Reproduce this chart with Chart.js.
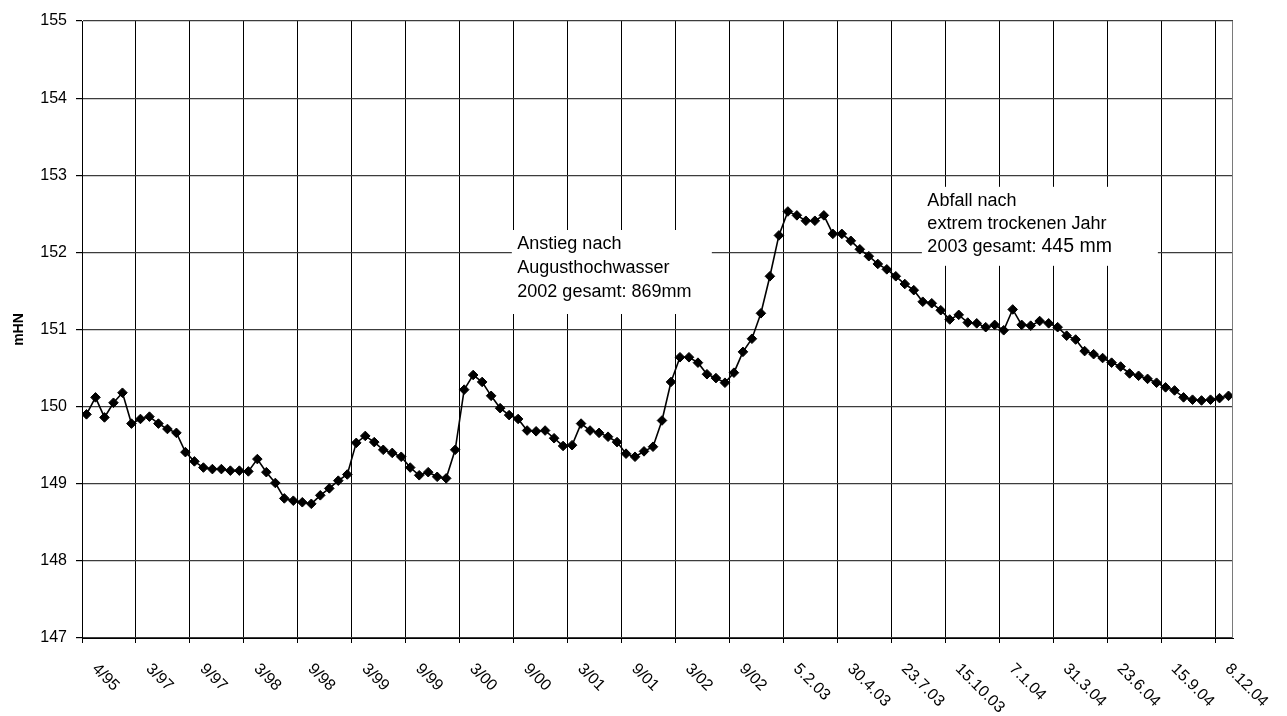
<!DOCTYPE html>
<html>
<head>
<meta charset="utf-8">
<title>Grundwasserstand mHN</title>
<script src="https://cdn.jsdelivr.net/npm/chart.js@4.4.1/dist/chart.umd.min.js"></script>
<style>
  html, body { margin: 0; padding: 0; background: #ffffff; }
  #wrap { width: 1287px; height: 716px; position: relative; }
</style>
</head>
<body>
<div id="wrap"><canvas id="chart"></canvas></div>
<script>
// Labelled measurement dates (one label every six readings)
const tickLabels = ['4/95', '3/97', '9/97', '3/98', '9/98', '3/99', '9/99', '3/00', '9/00',
  '3/01', '9/01', '3/02', '9/02', '5.2.03', '30.4.03', '23.7.03', '15.10.03', '7.1.04',
  '31.3.04', '23.6.04', '15.9.04', '8.12.04'];
const readingsPerLabel = 6;

// Water level readings in mHN, in measurement order
const levels1995to1998 = [149.90, 150.12, 149.86, 150.05, 150.18, 149.78, 149.84, 149.87, 149.78, 149.71,
  149.66, 149.41, 149.29, 149.21, 149.19, 149.19, 149.17, 149.17, 149.16, 149.32,
  149.15, 149.01, 148.81, 148.78, 148.76, 148.74, 148.85, 148.94, 149.04, 149.12];
const levels1999to2001 = [149.53, 149.62, 149.54, 149.44, 149.40, 149.35, 149.21, 149.11, 149.15, 149.09,
  149.07, 149.44, 150.22, 150.41, 150.32, 150.14, 149.98, 149.89, 149.84, 149.69,
  149.68, 149.69, 149.59, 149.49, 149.50, 149.78, 149.69, 149.66, 149.61, 149.54,
  149.39, 149.35, 149.42, 149.48];
const levels2002to2003 = [149.82, 150.32, 150.64, 150.64, 150.57, 150.42, 150.37, 150.31, 150.44, 150.71,
  150.88, 151.21, 151.69, 152.22, 152.53, 152.48, 152.41, 152.41, 152.48, 152.24,
  152.24, 152.15, 152.04, 151.95, 151.85, 151.78, 151.69, 151.59, 151.51, 151.36,
  151.34, 151.25];
const levels2004 = [151.13, 151.19, 151.09, 151.08, 151.03, 151.06, 150.99, 151.26, 151.06, 151.05,
  151.11, 151.08, 151.03, 150.92, 150.87, 150.72, 150.68, 150.63, 150.57, 150.52,
  150.43, 150.40, 150.36, 150.31, 150.25, 150.21, 150.12, 150.09, 150.08, 150.09,
  150.11, 150.14];

const levels = [...levels1995to1998, ...levels1999to2001, ...levels2002to2003, ...levels2004];

// Value axis
const yMin = 147, yMax = 155, yStep = 1;

// Text notes, anchored in data coordinates (reading index, level)
const noteRise = { x: 47.3, y: 152.29, lines: ['Anstieg nach', 'Augusthochwasser', '2002 gesamt: 869mm'] };
const noteFall = { x: 92.9, y: 152.85, lines: ['Abfall nach', 'extrem trockenen Jahr', '2003 gesamt: '], tail: '445 mm' };

const FONT = "'Liberation Sans', Arial, Helvetica, sans-serif";

const points = levels.map((v, i) => ({ x: i, y: v }));

const decorations = {
  id: 'decorations',
  afterDatasetsDraw(chart) {
    const ctx = chart.ctx;
    const xs = chart.scales.x, ys = chart.scales.y;
    const drawNote = (note, w, h, lineGap) => {
      const left = xs.getPixelForValue(note.x);
      const top = ys.getPixelForValue(note.y);
      ctx.save();
      ctx.fillStyle = '#ffffff';
      ctx.fillRect(left, top, w, h);
      ctx.fillStyle = '#000000';
      ctx.textAlign = 'left';
      ctx.textBaseline = 'alphabetic';
      ctx.font = '18px ' + FONT;
      note.lines.forEach((ln, i) => {
        const by = top + 19 + i * lineGap;
        ctx.fillText(ln, left + 5.5, by);
        if (note.tail && i === note.lines.length - 1) {
          const wHead = ctx.measureText(ln).width;
          ctx.font = '19.5px ' + FONT;
          ctx.fillText(note.tail, left + 5.5 + wHead, by);
          ctx.font = '18px ' + FONT;
        }
      });
      ctx.restore();
    };
    drawNote(noteRise, 200, 84, 24);
    drawNote(noteFall, 236, 79, 23.3);
  },
  afterDraw(chart) {
    const ctx = chart.ctx;
    const xs = chart.scales.x;
    const area = chart.chartArea;
    ctx.save();
    // right frame edge of the plot area
    ctx.strokeStyle = '#7a7a7a';
    ctx.lineWidth = 1;
    ctx.beginPath();
    ctx.moveTo(Math.round(area.right) - 0.5, area.top);
    ctx.lineTo(Math.round(area.right) - 0.5, area.bottom);
    ctx.stroke();
    // slanted date labels reading downwards
    ctx.fillStyle = '#000000';
    ctx.font = '16px ' + FONT;
    ctx.textAlign = 'left';
    ctx.textBaseline = 'middle';
    xs.ticks.forEach((t, k) => {
      if (k >= tickLabels.length) return;
      const px = xs.getPixelForValue(t.value);
      ctx.save();
      ctx.translate(px + 12.5, area.bottom + 28.5);
      ctx.rotate(Math.PI / 4);
      ctx.fillText(tickLabels[k], 0, 0);
      ctx.restore();
    });
    ctx.restore();
  }
};

new Chart(document.getElementById('chart'), {
  type: 'line',
  data: {
    datasets: [{
      data: points,
      borderColor: '#000000',
      borderWidth: 1.6,
      backgroundColor: '#000000',
      pointStyle: 'rectRot',
      pointRadius: 4.8,
      pointBorderWidth: 1,
      pointBorderColor: '#000000',
      pointBackgroundColor: '#000000',
      tension: 0,
      fill: false
    }]
  },
  options: {
    responsive: true,
    maintainAspectRatio: false,
    animation: false,
    events: [],
    layout: { padding: { left: 0, right: 54, top: 21, bottom: 0 } },
    plugins: {
      legend: { display: false },
      tooltip: { enabled: false },
      title: { display: false }
    },
    scales: {
      x: {
        type: 'linear',
        min: -0.5,
        max: levels.length - 0.5,
        afterBuildTicks(scale) {
          scale.ticks = tickLabels.map((_, k) => ({ value: -0.5 + k * readingsPerLabel }));
        },
        afterFit(scale) { scale.height = 78; },
        ticks: { display: false },
        grid: {
          color: '#000000',
          lineWidth: 1,
          drawTicks: true,
          tickLength: 5,
          tickColor: '#000000'
        },
        border: { display: true, color: '#000000', width: 1 }
      },
      y: {
        min: yMin,
        max: yMax,
        afterBuildTicks(scale) {
          const arr = [];
          for (let v = yMin; v <= yMax; v += yStep) arr.push({ value: v });
          scale.ticks = arr;
        },
        afterFit(scale) { scale.width = 82; },
        ticks: {
          stepSize: yStep,
          color: '#000000',
          padding: 9,
          font: { family: FONT, size: 16 }
        },
        grid: {
          color: '#3c3c3c',
          lineWidth: 1.2,
          drawTicks: true,
          tickLength: 6,
          tickColor: '#000000'
        },
        border: { display: true, color: '#000000', width: 1 },
        title: {
          display: true,
          text: 'mHN',
          color: '#000000',
          padding: { top: 11, bottom: 0 },
          font: { family: FONT, size: 14, weight: 'bold' }
        }
      }
    }
  },
  plugins: [decorations]
});
</script>
</body>
</html>
